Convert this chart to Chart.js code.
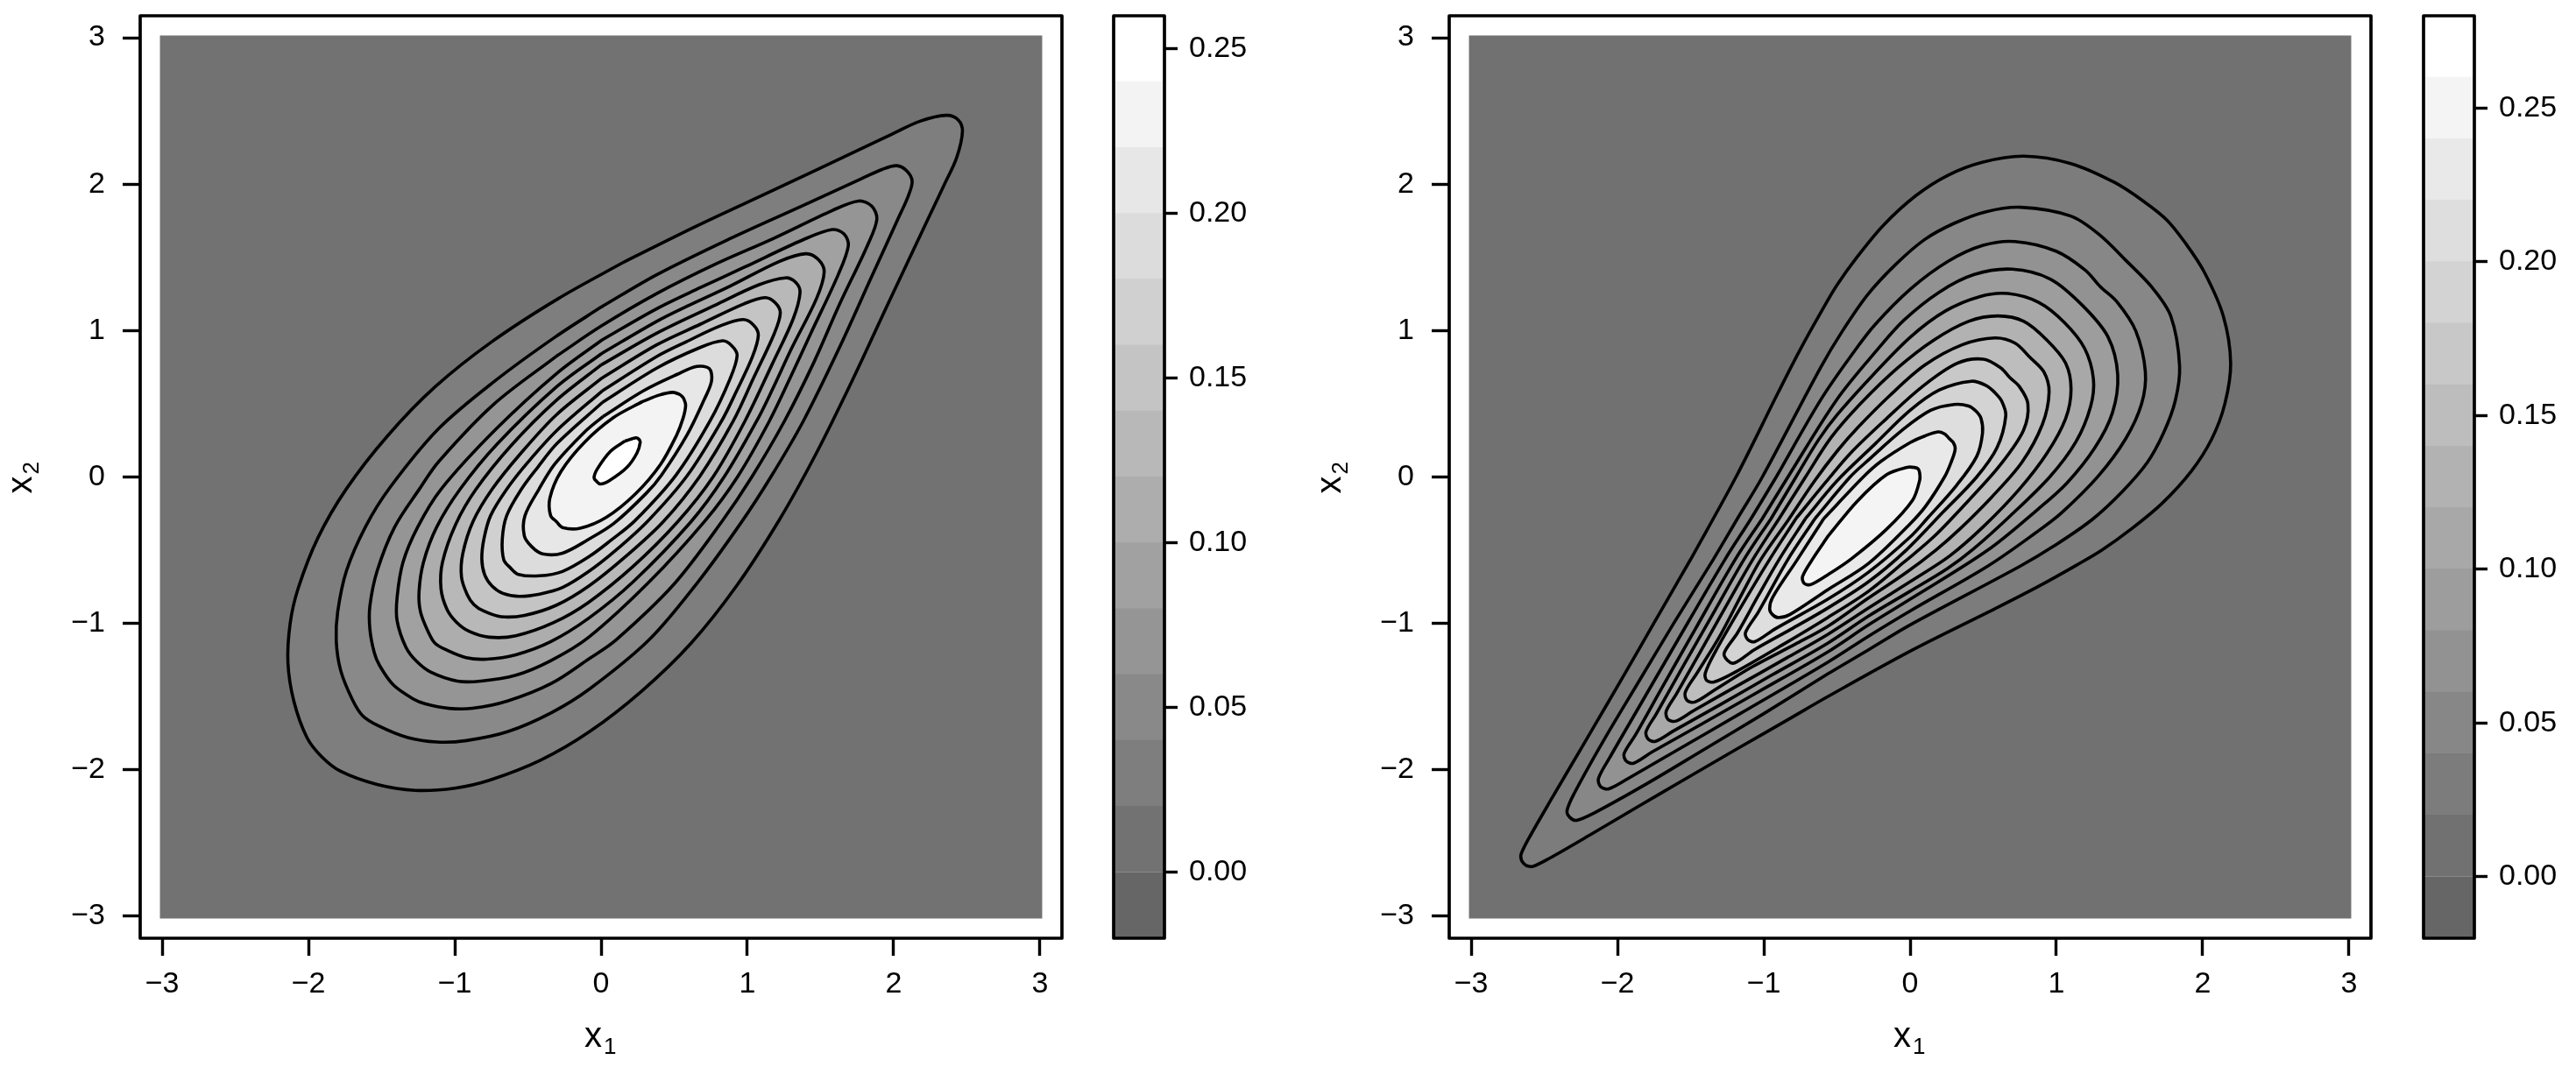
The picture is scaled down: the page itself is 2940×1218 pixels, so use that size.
<!DOCTYPE html>
<html>
<head>
<meta charset="utf-8">
<title>Contours</title>
<script src="https://cdn.jsdelivr.net/npm/chart.js@4/dist/chart.umd.min.js"></script>
<style>
  html, body { margin: 0; padding: 0; background: #fff; }
  canvas { position: absolute; top: 0; }
</style>
</head>
<body>
<canvas id="panel-left" width="1250" height="1218" style="left:0"></canvas>
<canvas id="bar-left" width="220" height="1218" style="left:1250px"></canvas>
<canvas id="panel-right" width="1250" height="1218" style="left:1494px"></canvas>
<canvas id="bar-right" width="195" height="1218" style="left:2745px"></canvas>
<script>
// Tick values and labels
const axisTicks = [-3, -2, -1, 0, 1, 2, 3];
const axisTickLabels = ['\u22123', '\u22122', '\u22121', '0', '1', '2', '3'];
const barTicks = [0, 0.05, 0.10, 0.15, 0.20, 0.25];
const barTickLabels = ['0.00', '0.05', '0.10', '0.15', '0.20', '0.25'];

// Colour bands, low to high
const leftLevels = [-0.02, 0, 0.02, 0.04, 0.06, 0.08, 0.10, 0.12, 0.14, 0.16, 0.18, 0.20, 0.22, 0.24, 0.26];
const leftGrays = ['#666666', '#727272', '#7e7e7e', '#898989', '#959595', '#a1a1a1', '#adadad', '#b8b8b8', '#c4c4c4', '#d0d0d0', '#dcdcdc', '#e7e7e7', '#f3f3f3', '#ffffff'];
const rightLevels = [-0.02, 0, 0.02, 0.04, 0.06, 0.08, 0.10, 0.12, 0.14, 0.16, 0.18, 0.20, 0.22, 0.24, 0.26, 0.28];
const rightGrays = ['#666666', '#717171', '#7c7c7c', '#878787', '#929292', '#9d9d9d', '#a8a8a8', '#b2b2b2', '#bdbdbd', '#c8c8c8', '#d3d3d3', '#dedede', '#e9e9e9', '#f4f4f4', '#ffffff'];

// The shaded field reaches a little past +-3
const fieldEdge = 3.015;

// Contours. Both surfaces are mirror images across x1 = x2,
// so each list runs along one side from diagonal to diagonal.
const left02 = [[-1.91,-1.91],[-2.01,-1.78],[-2.10,-1.53],[-2.14,-1.27],[-2.125,-1.0],[-2.07,-0.76],[-1.935,-0.415],[-1.74,-0.08],[-1.46,0.28],[-1.135,0.615],[-0.745,0.925],[-0.29,1.22],[0.16,1.47],[0.655,1.715],[1.18,1.96],[1.805,2.255],[1.995,2.345],[2.18,2.43],[2.36,2.47],[2.44,2.44]];
const left04 = [[-1.63,-1.63],[-1.70,-1.52],[-1.78,-1.32],[-1.81,-1.12],[-1.80,-0.92],[-1.74,-0.64],[-1.61,-0.34],[-1.445,-0.075],[-1.11,0.33],[-0.72,0.66],[-0.315,0.955],[0,1.16],[0.383,1.383],[0.875,1.625],[1.37,1.85],[1.775,2.035],[1.92,2.10],[2.02,2.126],[2.09,2.09]];
const left06 = [[-1.42,-1.42],[-1.515,-1.285],[-1.55,-1.20],[-1.58,-1.04],[-1.58,-0.88],[-1.53,-0.64],[-1.41,-0.34],[-1.24,-0.08],[-1.11,0.105],[-0.7325,0.4975],[-0.305,0.825],[0,1.03],[0.383,1.254],[0.78,1.453],[1.18,1.63],[1.58,1.82],[1.76,1.885],[1.85,1.85]];
const left08 = [[-1.26,-1.26],[-1.334,-1.162],[-1.394,-0.982],[-1.394,-0.822],[-1.354,-0.583],[-1.254,-0.343],[-1.094,-0.084],[-0.715,0.33],[-0.30,0.71],[0.005,0.935],[0.3785,1.1485],[0.68,1.294],[0.98,1.433],[1.38,1.62],[1.58,1.69],[1.66,1.66]];
const left10 = [[-1.135,-1.135],[-1.18,-1.06],[-1.234,-0.922],[-1.244,-0.783],[-1.214,-0.583],[-1.124,-0.343],[-0.964,-0.084],[-0.715,0.22],[-0.305,0.615],[0.0025,0.8425],[0.383,1.064],[0.583,1.164],[0.882,1.304],[1.22,1.473],[1.40,1.525],[1.485,1.485]];
const left12 = [[-0.99,-0.99],[-1.054,-0.902],[-1.094,-0.763],[-1.084,-0.583],[-0.994,-0.324],[-0.855,-0.084],[-0.61,0.22],[-0.31,0.52],[0,0.765],[0.383,0.984],[0.78,1.174],[1.08,1.313],[1.26,1.36],[1.33,1.33]];
const left14 = [[-0.87,-0.87],[-0.915,-0.803],[-0.954,-0.683],[-0.945,-0.523],[-0.875,-0.304],[-0.745,-0.084],[-0.55,0.16],[-0.305,0.425],[0.005,0.675],[0.383,0.904],[0.68,1.044],[0.98,1.184],[1.12,1.225],[1.19,1.19]];
const left16 = [[-0.745,-0.745],[-0.795,-0.67],[-0.815,-0.56],[-0.80,-0.42],[-0.755,-0.264],[-0.645,-0.084],[-0.505,0.095],[-0.30,0.32],[0.0075,0.5875],[0.383,0.824],[0.583,0.924],[0.82,1.034],[0.97,1.075],[1.04,1.04]];
const left18 = [[-0.62,-0.62],[-0.665,-0.565],[-0.675,-0.423],[-0.645,-0.264],[-0.545,-0.084],[-0.43,0.07],[-0.30,0.23],[0.01,0.51],[0.383,0.745],[0.6725,0.8825],[0.83,0.93],[0.895,0.895]];
const left20 = [[-0.475,-0.475],[-0.525,-0.40],[-0.52,-0.264],[-0.425,-0.084],[-0.315,0.09],[-0.11,0.31],[0.0125,0.4125],[0.288,0.588],[0.5215,0.7015],[0.655,0.755],[0.74,0.74]];
const left22 = [[-0.305,-0.305],[-0.345,-0.263],[-0.35,-0.144],[-0.275,0.036],[-0.115,0.235],[0.084,0.405],[0.283,0.515],[0.40,0.56],[0.49,0.578],[0.535,0.565],[0.552,0.552]];
const left24 = [[-0.03,-0.03],[-0.048,-0.005],[-0.025,0.056],[0.064,0.175],[0.163,0.245],[0.24,0.268],[0.258,0.258]];

const right02 = [[1.755,1.755],[1.597,1.882],[1.397,2.012],[1.098,2.141],[0.778,2.191],[0.499,2.151],[0.259,2.061],[0.04,1.922],[-0.18,1.722],[-0.36,1.505],[-0.5,1.31],[-0.599,1.143],[-0.749,0.874],[-0.9,0.58],[-1.19,0],[-1.499,-0.561],[-1.652,-0.826],[-1.849,-1.169],[-2.076,-1.56],[-2.2455,-1.8495],[-2.4455,-2.1895],[-2.6055,-2.4675],[-2.66,-2.58],[-2.655,-2.62],[-2.64,-2.64]];
const right04 = [[1.477,1.477],[1.297,1.652],[1.098,1.782],[0.758,1.842],[0.519,1.812],[0.3,1.732],[0.1,1.622],[-0.0985,1.4515],[-0.29,1.245],[-0.47,0.985],[-0.61,0.75],[-1.01,0],[-1.18,-0.284],[-1.345,-0.563],[-1.616,-1.0],[-1.856,-1.40],[-2.095,-1.80],[-2.295,-2.16],[-2.345,-2.28],[-2.325,-2.325]];
const right06 = [[1.30,1.30],[1.197,1.413],[0.998,1.542],[0.718,1.608],[0.499,1.582],[0.26,1.473],[0.0065,1.2865],[-0.243,1.037],[-0.38,0.86],[-0.607,0.533],[-0.915,0],[-1.087,-0.284],[-1.265,-0.563],[-1.616,-1.162],[-1.85,-1.566],[-2.055,-1.92],[-2.13,-2.06],[-2.115,-2.115]];
const right08 = [[1.175,1.175],[0.958,1.352],[0.698,1.419],[0.439,1.383],[0.2,1.263],[-0.04,1.073],[-0.22,0.874],[-0.5,0.53],[-0.835,0],[-1.01,-0.284],[-1.195,-0.563],[-1.469,-1.04],[-1.696,-1.44],[-1.876,-1.76],[-1.955,-1.89],[-1.94,-1.94]];
const right10 = [[1.055,1.055],[0.878,1.193],[0.668,1.253],[0.479,1.233],[0.24,1.133],[0,0.954],[-0.263,0.687],[-0.4945,0.4295],[-0.625,0.255],[-0.78,0],[-0.95,-0.284],[-1.135,-0.563],[-1.351,-0.942],[-1.556,-1.30],[-1.736,-1.62],[-1.805,-1.74],[-1.79,-1.79]];
const right12 = [[0.935,0.935],[0.778,1.063],[0.599,1.1],[0.399,1.063],[0.16,0.934],[-0.083,0.747],[-0.3375,0.5025],[-0.5375,0.2725],[-0.715,0],[-0.895,-0.284],[-1.075,-0.563],[-1.235,-0.842],[-1.437,-1.2],[-1.596,-1.48],[-1.667,-1.60],[-1.655,-1.655]];
const right14 = [[0.818,0.818],[0.718,0.914],[0.579,0.95],[0.359,0.904],[0.1,0.764],[-0.14,0.555],[-0.36,0.335],[-0.5,0.175],[-0.655,-0.03],[-0.83,-0.29],[-1.02,-0.563],[-1.141,-0.783],[-1.297,-1.08],[-1.457,-1.34],[-1.537,-1.471],[-1.525,-1.525]];
const right16 = [[0.68,0.68],[0.62,0.745],[0.5,0.805],[0.319,0.775],[0.08,0.614],[-0.1625,0.3975],[-0.4025,0.1675],[-0.5815,-0.0415],[-0.78,-0.284],[-0.96,-0.563],[-1.145,-0.87],[-1.3285,-1.1885],[-1.40,-1.34],[-1.39,-1.39]];
const right18 = [[0.578,0.578],[0.52,0.625],[0.419,0.654],[0.2,0.594],[0,0.455],[-0.24,0.225],[-0.5,-0.027],[-0.715,-0.284],[-0.895,-0.563],[-1.04,-0.815],[-1.18,-1.065],[-1.27,-1.2],[-1.25,-1.25]];
const right20 = [[0.45,0.45],[0.40,0.485],[0.3,0.495],[0.14,0.455],[-0.06,0.315],[-0.28,0.12],[-0.41,0],[-0.65,-0.284],[-0.835,-0.563],[-1.037,-0.922],[-1.125,-1.062],[-1.11,-1.11]];
const right22 = [[0.265,0.265],[0.235,0.295],[0.19,0.308],[0.1,0.28],[0,0.235],[-0.2,0.106],[-0.32,0],[-0.59,-0.284],[-0.77,-0.563],[-0.94,-0.823],[-0.96,-0.90],[-0.94,-0.94]];
const right24 = [[0.055,0.055],[0.03,0.065],[-0.02,0.066],[-0.16,0.016],[-0.36,-0.164],[-0.56,-0.403],[-0.668,-0.563],[-0.735,-0.68],[-0.725,-0.725]];

const leftContours = [left02, left04, left06, left08, left10, left12, left14, left16, left18, left20, left22, left24];
const rightContours = [right02, right04, right06, right08, right10, right12, right14, right16, right18, right20, right22, right24];

const BLACK = '#000000';
const FONT_FAMILY = '"Liberation Sans", Arial, sans-serif';
const TICK_FONT = { family: FONT_FAMILY, size: 34 };

// Black box round the plot area
const framePlugin = {
  id: 'frame',
  afterDraw(c) {
    const { ctx, chartArea: a } = c;
    ctx.save();
    ctx.strokeStyle = BLACK;
    ctx.lineWidth = 3.7;
    ctx.lineJoin = 'round';
    ctx.strokeRect(a.left, a.top, a.right - a.left, a.bottom - a.top);
    ctx.restore();
  },
};

// Axis names with a real subscript, which a scale title can't do
const subscriptTitlesPlugin = {
  id: 'subscriptTitles',
  afterDraw(c) {
    const { ctx, scales } = c;
    const name = (baseline, drop, start, sub) => {
      ctx.font = `40px ${FONT_FAMILY}`;
      ctx.fillText('x', start, baseline);
      ctx.font = `26px ${FONT_FAMILY}`;
      ctx.fillText(sub, start + 22, baseline + drop);
    };
    ctx.save();
    ctx.fillStyle = BLACK;
    ctx.textAlign = 'left';
    ctx.textBaseline = 'alphabetic';
    name(1195, 8, scales.x.getPixelForValue(0) - 19, '1');
    ctx.translate(36, scales.y.getPixelForValue(0) + 19);
    ctx.rotate(-Math.PI / 2);
    name(0, 8, 0, '2');
    ctx.restore();
  },
};

// Second side of a contour is the first one mirrored across x1 = x2.
// The loop is opened on a flat stretch so its ends don't show as a corner.
const closeContour = (side) => {
  const loop = side.concat(side.slice(0, -1).reverse().map(([a, b]) => [b, a]));
  const start = Math.floor(side.length * 0.6);
  return loop.slice(start).concat(loop.slice(1, start + 1));
};

const tickGrid = {
  drawOnChartArea: false,
  drawTicks: true,
  tickLength: 20,
  tickWidth: 3.4,
  tickColor: BLACK,
};

const noScalePadding = (scale) => {
  scale.paddingTop = 0;
  scale.paddingBottom = 0;
  scale.paddingLeft = 0;
  scale.paddingRight = 0;
};

const panel = (id, contours, grays) => {
  const ctx = document.getElementById(id);
  if (!ctx) return;

  // Background band first, then the contours from the outside in
  const datasets = [{
    data: [[-fieldEdge, -fieldEdge], [fieldEdge, -fieldEdge], [fieldEdge, fieldEdge], [-fieldEdge, fieldEdge]],
    backgroundColor: grays[1],
    borderWidth: 0,
    showLine: true,
    fill: 'shape',
    pointRadius: 0,
    order: contours.length + 1,
  }];
  contours.forEach((side, i) => {
    datasets.push({
      data: closeContour(side),
      backgroundColor: grays[i + 2],
      borderColor: BLACK,
      borderWidth: 3.6,
      showLine: true,
      fill: 'shape',
      tension: 0.33,
      pointRadius: 0,
      order: contours.length - i,
    });
  });

  return new Chart(ctx, {
    type: 'scatter',
    data: { datasets },
    options: {
      responsive: false,
      devicePixelRatio: 1,
      animation: false,
      events: [],
      layout: { padding: { top: 18, right: 38, bottom: 0, left: 0 } },
      plugins: { legend: { display: false }, tooltip: { enabled: false } },
      scales: {
        x: {
          type: 'linear',
          min: -3.15,
          max: 3.15,
          border: { display: false },
          grid: tickGrid,
          afterBuildTicks: (s) => { s.ticks = axisTicks.map((value) => ({ value })); },
          afterFit: (s) => { s.height = 147; noScalePadding(s); },
          ticks: {
            font: TICK_FONT,
            color: BLACK,
            padding: 12,
            maxRotation: 0,
            autoSkip: false,
            callback: (v, i) => axisTickLabels[i],
          },
        },
        y: {
          type: 'linear',
          min: -3.15,
          max: 3.15,
          border: { display: false },
          grid: tickGrid,
          afterBuildTicks: (s) => { s.ticks = axisTicks.map((value) => ({ value })); },
          afterFit: (s) => { s.width = 160; noScalePadding(s); },
          ticks: {
            font: TICK_FONT,
            color: BLACK,
            padding: 20,
            autoSkip: false,
            callback: (v, i) => axisTickLabels[i],
          },
        },
      },
    },
    plugins: [framePlugin, subscriptTitlesPlugin],
  });
};

const colorBar = (id, levels, grays) => {
  const ctx = document.getElementById(id);
  if (!ctx) return;
  const canvasWidth = ctx.width;

  return new Chart(ctx, {
    type: 'bar',
    data: {
      labels: ['level'],
      datasets: grays.map((gray, i) => ({
        data: [[levels[i], levels[i + 1]]],
        backgroundColor: gray,
        borderWidth: 0,
        inflateAmount: 0.5,
        barPercentage: 1,
        categoryPercentage: 1,
      })),
    },
    options: {
      responsive: false,
      devicePixelRatio: 1,
      animation: false,
      events: [],
      layout: { padding: { top: 18, right: 0, bottom: 147, left: 21 } },
      plugins: { legend: { display: false }, tooltip: { enabled: false } },
      scales: {
        x: { display: false, stacked: true },
        y: {
          position: 'right',
          min: levels[0],
          max: levels[levels.length - 1],
          border: { display: false },
          grid: Object.assign({}, tickGrid, { tickLength: 15 }),
          afterBuildTicks: (s) => { s.ticks = barTicks.map((value) => ({ value })); },
          afterFit: (s) => { s.width = canvasWidth - 21 - 58; noScalePadding(s); },
          ticks: {
            font: TICK_FONT,
            color: BLACK,
            padding: 13,
            autoSkip: false,
            callback: (v, i) => barTickLabels[i],
          },
        },
      },
    },
    plugins: [framePlugin],
  });
};

panel('panel-left', leftContours, leftGrays);
colorBar('bar-left', leftLevels, leftGrays);
panel('panel-right', rightContours, rightGrays);
colorBar('bar-right', rightLevels, rightGrays);
</script>
</body>
</html>
